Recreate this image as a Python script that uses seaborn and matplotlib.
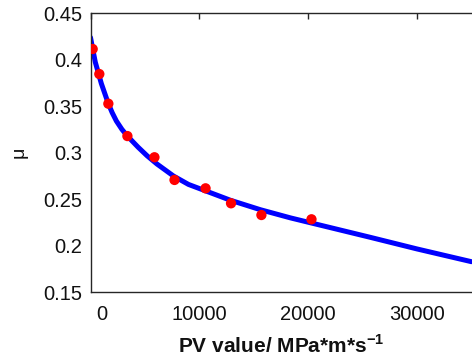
import matplotlib
matplotlib.use("Agg")
import matplotlib.pyplot as plt
from matplotlib.transforms import ScaledTranslation
import seaborn as sns
import pandas as pd

# measured points
pv_points = [200, 810, 1640, 3390, 5875, 7717, 10570, 12910, 15700, 20300]
mu_points = [0.4116, 0.3847, 0.3528, 0.3180, 0.2952, 0.2708, 0.2618, 0.2457, 0.2331, 0.2285]

# fitted curve
pv_curve = [0, 75, 440, 995, 1612, 1990, 2377, 2880, 3390, 4375, 5200, 6100, 7630, 9000,
            10700, 12850, 15610, 18375, 20300, 25740, 30000, 35000]
mu_curve = [0.4240, 0.4195, 0.3975, 0.3745, 0.3537, 0.3432, 0.3342, 0.3253, 0.3180,
            0.3060, 0.2968, 0.2880, 0.2750, 0.2660, 0.2585, 0.2490, 0.2388, 0.2300,
            0.2245, 0.2090, 0.1966, 0.1829]

x_ticks = [0, 10000, 20000, 30000]
y_ticks = [0.15, 0.2, 0.25, 0.3, 0.35, 0.4, 0.45]
y_tick_labels = ["0.15", "0.2", "0.25", "0.3", "0.35", "0.4", "0.45"]

sns.set_style("white")
plt.rcParams["font.family"] = ["Liberation Sans", "DejaVu Sans"]
plt.rcParams["mathtext.fontset"] = "custom"
plt.rcParams["mathtext.rm"] = "Liberation Sans"
plt.rcParams["mathtext.bf"] = "Liberation Sans:bold"

df_pts = pd.DataFrame({"pv": pv_points, "mu": mu_points})
df_curve = pd.DataFrame({"pv": pv_curve, "mu": mu_curve})

fig = plt.figure(figsize=(4.72, 3.62), dpi=100)
ax = fig.add_axes([90.5 / 472, 1 - 292.3 / 362, (471.5 - 90.5) / 472, (292.3 - 13.3) / 362])

sns.lineplot(data=df_curve, x="pv", y="mu", ax=ax, color="#0000ff", linewidth=3.6, zorder=2)
sns.scatterplot(data=df_pts, x="pv", y="mu", ax=ax, color="#ff0000", s=55, edgecolor="none", zorder=3)

ax.set_xlim(0, 35000)
ax.set_ylim(0.15, 0.45)
ax.set_xticks(x_ticks)
ax.set_xticklabels([str(t) for t in x_ticks])
ax.set_yticks(y_ticks)
ax.set_yticklabels(y_tick_labels)

for s in ["left", "bottom", "top"]:
    ax.spines[s].set_color("#262626")
    ax.spines[s].set_linewidth(1.0)
ax.spines["right"].set_visible(False)

ax.tick_params(axis="both", direction="in", length=4, width=1, color="#262626",
               labelsize=14.5, labelcolor="#111111")
ax.tick_params(axis="x", pad=9.5, top=True)
ax.tick_params(axis="y", pad=6)

# shift "0" label a little right like the reference
lbl0 = ax.get_xticklabels()[0]
lbl0.set_transform(lbl0.get_transform() + ScaledTranslation(11 / 100, 0, fig.dpi_scale_trans))

ax.set_xlabel("PV value/ MPa*m*s$^{\\mathbf{-1}}$", fontsize=15, fontweight="bold",
              labelpad=7, color="#111111")
ax.set_ylabel("\u03bc", fontsize=14, labelpad=11, color="#111111")

fig.savefig("out.png", dpi=100)
